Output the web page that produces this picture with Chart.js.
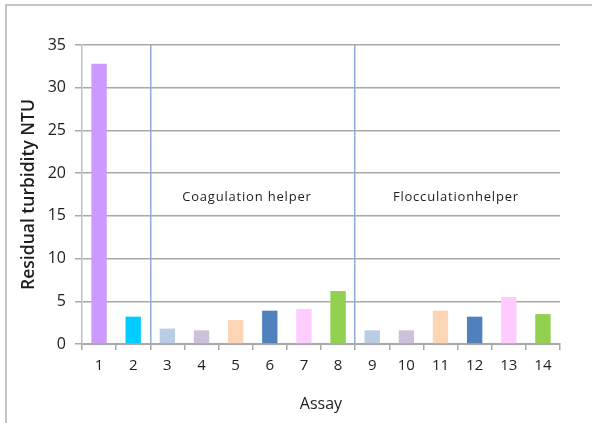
<!DOCTYPE html>
<html>
<head>
<meta charset="utf-8">
<script src="https://cdn.jsdelivr.net/npm/chart.js@4/dist/chart.umd.min.js"></script>
<style>
  html, body { margin: 0; padding: 0; background: #ffffff; }
  canvas { display: block; }
</style>
</head>
<body>
<canvas id="c" width="592" height="423"></canvas>
<script>
// Residual turbidity per assay
const assays = ['1', '2', '3', '4', '5', '6', '7', '8', '9', '10', '11', '12', '13', '14'];
const turbidity = [32.8, 3.2, 1.8, 1.6, 2.8, 3.9, 4.1, 6.2, 1.6, 1.6, 3.9, 3.2, 5.5, 3.5];
const barColors = ['#cc99ff', '#00ccff', '#b9cde5', '#ccc0da', '#fcd5b5', '#4f81bd', '#ffccff',
                   '#92d050', '#b9cde5', '#ccc0da', '#fcd5b5', '#4f81bd', '#ffccff', '#92d050'];
const groupNames = ['Coagulation helper', 'Flocculationhelper'];
// category index where each group begins (separator line drawn before it)
const groupStarts = [2, 8];

const FONT = '"Open Sans", Lato, "Liberation Sans", sans-serif';
const TEXT = '#1e1e1e';
const GRID = '#a8a8a8';

// light frame along the top and left edges of the canvas
const framePlugin = {
  id: 'frame',
  beforeDraw(chart) {
    const ctx = chart.ctx;
    ctx.save();
    ctx.strokeStyle = '#c4c4c4';
    ctx.lineWidth = 2;
    ctx.beginPath();
    ctx.moveTo(6, chart.height);
    ctx.lineTo(6, 5);
    ctx.lineTo(chart.width, 5);
    ctx.stroke();
    ctx.restore();
  }
};

// group captions placed in data units
const groupLabelPlugin = {
  id: 'groupLabels',
  afterDatasetsDraw(chart, args, opts) {
    const ctx = chart.ctx;
    const xs = chart.scales.x, ys = chart.scales.y;
    ctx.save();
    ctx.font = '13px ' + FONT;
    ctx.fillStyle = TEXT;
    ctx.textAlign = 'center';
    ctx.textBaseline = 'middle';
    if ('letterSpacing' in ctx) ctx.letterSpacing = '0.8px';
    groupNames.forEach((name, i) => {
      ctx.fillText(name, xs.getPixelForValue(opts.at[i]), ys.getPixelForValue(opts.y));
    });
    ctx.restore();
  }
};

new Chart(document.getElementById('c'), {
  type: 'bar',
  data: {
    labels: assays,
    datasets: [{
      data: turbidity,
      backgroundColor: barColors,
      borderWidth: 0,
      categoryPercentage: 1,
      barPercentage: 0.45
    }]
  },
  plugins: [framePlugin, groupLabelPlugin],
  options: {
    responsive: false,
    animation: false,
    devicePixelRatio: 1,
    layout: { padding: { left: 0, top: 45, right: 32, bottom: 0 } },
    plugins: {
      legend: { display: false },
      tooltip: { enabled: false },
      groupLabels: { at: [4.33, 10.45], y: 17.2 }
    },
    scales: {
      x: {
        afterFit(scale) { scale.height = 79; },
        grid: {
          offset: true,
          drawOnChartArea: true,
          color: (c) => groupStarts.includes(c.index) ? '#8eaad6' : 'rgba(0,0,0,0)',
          lineWidth: 1.5,
          tickColor: GRID,
          tickLength: 6
        },
        border: { color: GRID, width: 2 },
        ticks: {
          color: TEXT,
          font: { family: FONT, size: 15 },
          padding: 7,
          maxRotation: 0
        },
        title: {
          display: true,
          text: 'Assay',
          color: TEXT,
          font: { family: FONT, size: 16 },
          padding: { top: 0, bottom: 9 }
        }
      },
      y: {
        min: 0,
        max: 35,
        afterFit(scale) { scale.width = 82; },
        grid: {
          color: GRID,
          lineWidth: 1.5,
          tickColor: GRID,
          tickLength: 7
        },
        border: { color: '#c0c0c0', width: 1.5 },
        ticks: {
          stepSize: 5,
          color: TEXT,
          font: { family: FONT, size: 16 },
          padding: 9
        },
        title: {
          display: true,
          text: 'Residual turbidity NTU',
          color: TEXT,
          font: { family: FONT, size: 17.5, weight: '600' },
          padding: { top: 19, bottom: 0 }
        }
      }
    }
  }
});
</script>
</body>
</html>
